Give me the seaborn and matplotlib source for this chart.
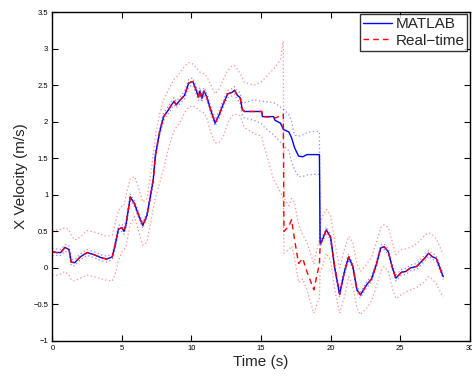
import numpy as np
import pandas as pd
import seaborn as sns
import matplotlib
matplotlib.use("Agg")
import matplotlib.pyplot as plt
from matplotlib.ticker import FuncFormatter

# time axis (s)
t = [0.0, 0.3, 0.6, 0.9, 1.2, 1.35, 1.6, 2.0, 2.5, 3.0, 3.5, 3.9, 4.3, 4.5, 4.75, 5.0, 5.15, 5.3, 5.6, 5.9,
     6.2, 6.5, 6.8, 7.0, 7.25, 7.4, 7.7, 8.0, 8.3, 8.6, 8.75, 8.9, 9.2, 9.5, 9.8, 10.1, 10.3, 10.5, 10.6, 10.75,
     10.9, 11.1, 11.4, 11.7, 12.0, 12.3, 12.6, 12.9, 13.1, 13.3, 13.5, 13.65, 13.8, 14.5, 15.05, 15.1, 15.9, 16.0,
     16.4, 16.6, 16.65, 17.0, 17.2, 17.4, 17.7, 18.0, 18.3, 18.8, 19.2, 19.25, 19.4, 19.7, 20.0, 20.3, 20.65,
     21.0, 21.3, 21.6, 21.9, 22.15, 22.6, 22.95, 23.3, 23.6, 23.85, 24.15, 24.45, 24.7, 24.9, 25.1, 25.4, 25.75,
     26.2, 26.55, 26.8, 27.05, 27.3, 27.6, 28.1]

# MATLAB estimate and its bounds
matlab = [0.22, 0.21, 0.21, 0.28, 0.25, 0.08, 0.07, 0.15, 0.21, 0.18, 0.14, 0.12, 0.15, 0.30, 0.53, 0.55, 0.50,
          0.60, 0.97, 0.88, 0.72, 0.58, 0.72, 0.93, 1.20, 1.53, 1.85, 2.07, 2.15, 2.24, 2.28, 2.23, 2.30, 2.36,
          2.53, 2.55, 2.45, 2.34, 2.42, 2.32, 2.42, 2.34, 2.15, 1.98, 2.10, 2.25, 2.38, 2.40, 2.43, 2.36, 2.33,
          2.17, 2.14, 2.14, 2.14, 2.07, 2.07, 2.02, 1.98, 1.90, 1.89, 1.86, 1.78, 1.65, 1.53, 1.52, 1.55, 1.55,
          1.55, 0.33, 0.38, 0.52, 0.42, 0.00, -0.36, -0.05, 0.15, 0.02, -0.30, -0.37, -0.23, -0.15, 0.05, 0.27,
          0.29, 0.22, 0.00, -0.14, -0.10, -0.06, -0.05, 0.00, 0.02, 0.09, 0.14, 0.20, 0.155, 0.13, -0.12]
matlab_lo = [0.17, 0.17, 0.17, 0.23, 0.20, 0.03, 0.03, 0.11, 0.17, 0.14, 0.10, 0.08, 0.11, 0.25, 0.48, 0.50,
             0.46, 0.55, 0.92, 0.84, 0.68, 0.54, 0.68, 0.89, 1.15, 1.48, 1.80, 2.02, 2.10, 2.19, 2.23, 2.19, 2.25,
             2.31, 2.48, 2.50, 2.40, 2.29, 2.37, 2.27, 2.37, 2.29, 2.10, 1.94, 2.05, 2.20, 2.33, 2.35, 2.38, 2.30,
             2.26, 2.09, 2.05, 2.02, 1.97, 1.95, 1.82, 1.80, 1.72, 1.68, 1.67, 1.60, 1.45, 1.35, 1.25, 1.25, 1.27,
             1.28, 1.28, 0.29, 0.34, 0.48, 0.38, -0.04, -0.40, -0.09, 0.11, -0.02, -0.34, -0.41, -0.27, -0.19,
             0.01, 0.23, 0.25, 0.18, -0.04, -0.18, -0.14, -0.10, -0.09, -0.04, -0.02, 0.05, 0.10, 0.16, 0.12,
             0.09, -0.16]
matlab_hi = [0.27, 0.26, 0.25, 0.32, 0.30, 0.12, 0.11, 0.19, 0.25, 0.22, 0.18, 0.16, 0.19, 0.35, 0.58, 0.60,
             0.55, 0.65, 1.01, 0.92, 0.76, 0.62, 0.76, 0.97, 1.25, 1.58, 1.90, 2.12, 2.20, 2.29, 2.33, 2.28, 2.35,
             2.41, 2.58, 2.60, 2.50, 2.39, 2.47, 2.37, 2.47, 2.39, 2.20, 2.03, 2.15, 2.30, 2.43, 2.45, 2.48, 2.42,
             2.40, 2.25, 2.26, 2.30, 2.28, 2.28, 2.26, 2.25, 2.20, 2.17, 2.16, 2.10, 2.00, 1.82, 1.80, 1.82, 1.85,
             1.87, 1.86, 0.38, 0.42, 0.56, 0.46, 0.04, -0.32, -0.01, 0.19, 0.06, -0.26, -0.33, -0.19, -0.11, 0.09,
             0.31, 0.33, 0.26, 0.04, -0.10, -0.06, -0.02, -0.01, 0.04, 0.06, 0.13, 0.18, 0.24, 0.20, 0.17, -0.08]

# Real-time estimate and its bounds
realtime = [0.22, 0.21, 0.21, 0.28, 0.25, 0.08, 0.07, 0.15, 0.21, 0.18, 0.14, 0.12, 0.15, 0.30, 0.53, 0.55,
            0.50, 0.60, 0.97, 0.88, 0.72, 0.58, 0.72, 0.93, 1.20, 1.53, 1.85, 2.07, 2.15, 2.24, 2.28, 2.23, 2.30,
            2.36, 2.53, 2.55, 2.45, 2.34, 2.42, 2.32, 2.42, 2.34, 2.15, 1.98, 2.10, 2.25, 2.38, 2.40, 2.43, 2.36,
            2.33, 2.17, 2.14, 2.14, 2.14, 2.07, 2.06, 2.05, 2.08, 2.10, 0.50, 0.57, 0.66, 0.40, 0.06, 0.13, -0.05,
            -0.30, 0.06, 0.30, 0.38, 0.52, 0.42, 0.00, -0.36, -0.05, 0.15, 0.02, -0.30, -0.37, -0.23, -0.15, 0.05,
            0.27, 0.29, 0.22, 0.00, -0.14, -0.10, -0.06, -0.05, 0.00, 0.02, 0.09, 0.14, 0.20, 0.155, 0.13, -0.12]
realtime_lo = [-0.10, -0.10, -0.08, -0.05, -0.10, -0.16, -0.18, -0.14, -0.10, -0.12, -0.15, -0.17, -0.18,
               -0.10, 0.10, 0.22, 0.25, 0.30, 0.60, 0.70, 0.50, 0.31, 0.35, 0.55, 0.80, 0.95, 1.15, 1.36, 1.60,
               1.80, 1.87, 1.92, 2.00, 2.12, 2.20, 2.22, 2.20, 2.17, 2.15, 2.14, 2.12, 2.05, 1.85, 1.71, 1.72,
               1.80, 1.98, 2.08, 2.10, 2.10, 2.08, 2.00, 1.92, 1.84, 1.80, 1.75, 1.21, 1.18, 1.03, 0.95, 0.20,
               0.25, 0.30, 0.15, -0.20, -0.15, -0.30, -0.62, -0.40, -0.05, 0.00, 0.20, 0.10, -0.30, -0.62, -0.40,
               -0.12, -0.25, -0.55, -0.64, -0.55, -0.45, -0.25, -0.05, 0.02, -0.05, -0.28, -0.42, -0.40, -0.36,
               -0.33, -0.30, -0.27, -0.22, -0.18, -0.12, -0.15, -0.22, -0.40]
realtime_hi = [0.50, 0.52, 0.53, 0.55, 0.52, 0.45, 0.38, 0.42, 0.51, 0.49, 0.46, 0.43, 0.45, 0.60, 0.78, 0.85,
               0.85, 1.00, 1.22, 1.25, 1.10, 0.90, 0.95, 1.20, 1.55, 1.80, 2.10, 2.30, 2.42, 2.53, 2.58, 2.60,
               2.68, 2.76, 2.81, 2.79, 2.75, 2.70, 2.68, 2.66, 2.66, 2.62, 2.50, 2.38, 2.45, 2.58, 2.70, 2.76,
               2.77, 2.72, 2.66, 2.60, 2.54, 2.50, 2.55, 2.56, 2.72, 2.74, 2.85, 3.10, 0.95, 0.85, 0.95, 0.90,
               0.60, 0.45, 0.35, 0.05, 0.40, 0.60, 0.70, 0.80, 0.72, 0.35, 0.00, 0.25, 0.43, 0.35, 0.05, -0.05,
               0.05, 0.15, 0.35, 0.55, 0.59, 0.55, 0.35, 0.18, 0.22, 0.25, 0.26, 0.28, 0.33, 0.40, 0.45, 0.48,
               0.46, 0.40, 0.18]

df = pd.DataFrame({"t": t, "matlab": matlab, "matlab_lo": matlab_lo, "matlab_hi": matlab_hi,
                   "realtime": realtime, "realtime_lo": realtime_lo, "realtime_hi": realtime_hi})

sns.set_style("white")
plt.rcParams['font.family'] = ['Liberation Sans', 'DejaVu Sans']

fig = plt.figure(figsize=(4.72, 3.78), dpi=100)
ax = fig.add_axes([0.111, 0.098, 0.884, 0.870])

# dotted bounds
for col, c in [("realtime_lo", "red"), ("realtime_hi", "red"), ("matlab_lo", "blue"), ("matlab_hi", "blue")]:
    sns.lineplot(data=df, x="t", y=col, ax=ax, color=c, linestyle=(0, (1, 2)), linewidth=0.9, alpha=0.45,
                 estimator=None, sort=False)

sns.lineplot(data=df, x="t", y="matlab", ax=ax, color="blue", linewidth=1.0,
             estimator=None, sort=False, label="MATLAB")
sns.lineplot(data=df, x="t", y="realtime", ax=ax, color="red", linewidth=1.0, linestyle=(0, (4, 3)),
             estimator=None, sort=False, label="Real\u2212time")

ax.set_xlim(0, 30)
ax.set_ylim(-1, 3.5)
ax.set_xticks(np.arange(0, 31, 5))
ax.set_yticks(np.arange(-1, 3.51, 0.5))
ax.xaxis.set_major_formatter(FuncFormatter(lambda v, p: ("%g" % v).replace("-", "\u2212")))
ax.yaxis.set_major_formatter(FuncFormatter(lambda v, p: ("%g" % v).replace("-", "\u2212")))
ax.tick_params(direction="in", length=4, width=0.8, labelsize=5.5, top=True, right=True,
               bottom=True, left=True, colors="black", pad=3)
for s in ax.spines.values():
    s.set_color("black")
    s.set_linewidth(1.0)

ax.set_xlabel("Time (s)", fontsize=11, labelpad=2)
ax.set_ylabel("X Velocity (m/s)", fontsize=11, labelpad=4)

leg = ax.legend(loc="upper right", fontsize=11, frameon=True, fancybox=False, borderaxespad=0.15,
                handlelength=1.9, handletextpad=0.2, borderpad=0.2, labelspacing=0.15)
leg.get_frame().set_edgecolor("black")
leg.get_frame().set_linewidth(1.0)

fig.savefig("out.png", dpi=100)
